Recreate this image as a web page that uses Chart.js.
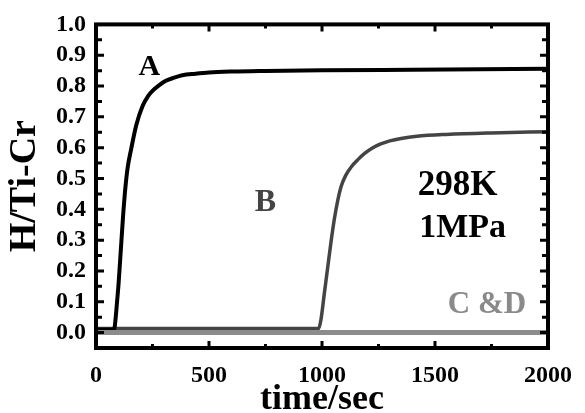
<!DOCTYPE html>
<html>
<head>
<meta charset="utf-8">
<script src="https://cdn.jsdelivr.net/npm/chart.js@4/dist/chart.umd.min.js"></script>
<style>
  html, body { margin: 0; padding: 0; background: #fff; }
  #wrap { width: 585px; height: 413px; }
</style>
</head>
<body>
<div id="wrap"><canvas id="chart"></canvas></div>
<script>
// DATA
const timeA   = [0, 80, 86, 92, 100, 110, 120, 130, 140, 156, 178, 207, 230, 251, 280, 309, 345, 382, 440, 500, 600, 750, 1000, 1400, 2000];
const valuesA = [0.01, 0.01, 0.04, 0.09, 0.16, 0.27, 0.38, 0.47, 0.535, 0.597, 0.673, 0.737, 0.767, 0.785, 0.803, 0.817, 0.827, 0.835, 0.840, 0.844, 0.847, 0.849, 0.851, 0.853, 0.856];

const timeB   = [0, 985, 995, 1010, 1025, 1040, 1055, 1070, 1085, 1105, 1130, 1160, 1190, 1225, 1260, 1300, 1350, 1420, 1550, 1750, 2000];
const valuesB = [0.013, 0.013, 0.04, 0.125, 0.21, 0.295, 0.37, 0.43, 0.475, 0.51, 0.538, 0.562, 0.582, 0.600, 0.612, 0.622, 0.630, 0.637, 0.643, 0.648, 0.652];

const timeCD   = [0, 2000];
const valuesCD = [0, 0];

const xTicks = [0, 500, 1000, 1500, 2000];
const yTicks = [0, 0.1, 0.2, 0.3, 0.4, 0.5, 0.6, 0.7, 0.8, 0.9, 1.0];

// text labels inside the plot, placed in data units
const noteText  = ['A', 'B', '298K', '1MPa', 'C &D'];
const noteTime  = [236, 750, 1600, 1622, 1730];
const noteValue = [0.86, 0.42, 0.476, 0.34, 0.09];
const noteColor = ['#000', '#444', '#000', '#000', '#8a8a8a'];
const noteSize  = [30, 32, 35, 34, 31];

const FONT = '"Liberation Serif", "Times New Roman", serif';

function toPoints(xs, ys) {
  return xs.map((x, i) => ({ x: x, y: ys[i] }));
}

// minor ticks sit half way between the major ones
function halfSteps(ticks) {
  var out = [];
  for (var i = 0; i < ticks.length - 1; i++) out.push((ticks[i] + ticks[i + 1]) / 2);
  return out;
}

// FRAME, INWARD TICKS AND TEXT
const framePlugin = {
  id: 'frame',
  afterDatasetsDraw(chart) {
    const ctx = chart.ctx;
    const a = chart.chartArea;
    const xs = chart.scales.x;
    const ys = chart.scales.y;
    ctx.save();
    ctx.strokeStyle = '#000';
    ctx.lineWidth = 3;
    ctx.lineCap = 'butt';

    function xTick(v, len) {
      var p = xs.getPixelForValue(v);
      ctx.beginPath();
      ctx.moveTo(p, a.bottom); ctx.lineTo(p, a.bottom - len);
      ctx.moveTo(p, a.top); ctx.lineTo(p, a.top + len);
      ctx.stroke();
    }
    function yTick(v, len) {
      var p = ys.getPixelForValue(v);
      ctx.beginPath();
      ctx.moveTo(a.left, p); ctx.lineTo(a.left + len, p);
      ctx.moveTo(a.right, p); ctx.lineTo(a.right - len, p);
      ctx.stroke();
    }
    xTicks.forEach(v => xTick(v, 7));
    halfSteps(xTicks).forEach(v => xTick(v, 4));
    yTicks.forEach(v => yTick(v, 8));
    halfSteps(yTicks).forEach(v => yTick(v, 6));

    ctx.lineWidth = 4;
    ctx.strokeRect(a.left, a.top, a.right - a.left, a.bottom - a.top);

    ctx.textAlign = 'center';
    ctx.textBaseline = 'middle';
    noteText.forEach((t, i) => {
      ctx.fillStyle = noteColor[i];
      ctx.font = 'bold ' + noteSize[i] + 'px ' + FONT;
      ctx.fillText(t, xs.getPixelForValue(noteTime[i]), ys.getPixelForValue(noteValue[i]));
    });
    ctx.restore();
  }
};

// CHART
new Chart(document.getElementById('chart'), {
  type: 'line',
  data: {
    datasets: [
      { label: 'C&D', data: toPoints(timeCD, valuesCD), borderColor: '#8c8c8c', borderWidth: 5 },
      { label: 'A', data: toPoints(timeA, valuesA), borderColor: '#000', borderWidth: 4 },
      { label: 'B', data: toPoints(timeB, valuesB), borderColor: '#444', borderWidth: 3.5 }
    ]
  },
  options: {
    responsive: true,
    maintainAspectRatio: false,
    animation: false,
    layout: { padding: { left: 0, top: 22, right: 32, bottom: 0 } },
    elements: {
      point: { radius: 0 },
      line: { cubicInterpolationMode: 'monotone', fill: false }
    },
    plugins: { legend: { display: false }, tooltip: { enabled: false } },
    scales: {
      x: {
        type: 'linear',
        min: 0,
        max: 2000,
        grid: { display: false, drawTicks: false },
        border: { display: false },
        afterBuildTicks: s => { s.ticks = xTicks.map(v => ({ value: v })); },
        afterFit: s => { s.height = 65; },
        ticks: {
          padding: 13,
          color: '#000',
          maxRotation: 0,
          autoSkip: false,
          font: { family: FONT, size: 24, weight: 'bold' },
          callback: v => String(v)
        },
        title: {
          display: true,
          text: 'time/sec',
          color: '#000',
          padding: { top: 0, bottom: -5 },
          font: { family: FONT, size: 36, weight: 'bold', lineHeight: 1 }
        }
      },
      y: {
        min: -0.05,
        max: 1.0,
        grid: { display: false, drawTicks: false },
        border: { display: false },
        afterBuildTicks: s => { s.ticks = yTicks.map(v => ({ value: v })); },
        afterFit: s => { s.width = 96; },
        ticks: {
          padding: 10,
          color: '#000',
          autoSkip: false,
          font: { family: FONT, size: 24, weight: 'bold' },
          callback: v => v.toFixed(1)
        },
        title: {
          display: true,
          text: 'H/Ti-Cr',
          color: '#000',
          padding: { top: 6, bottom: 0 },
          font: { family: FONT, size: 38, weight: 'bold', lineHeight: 1 }
        }
      }
    }
  },
  plugins: [framePlugin]
});
</script>
</body>
</html>
